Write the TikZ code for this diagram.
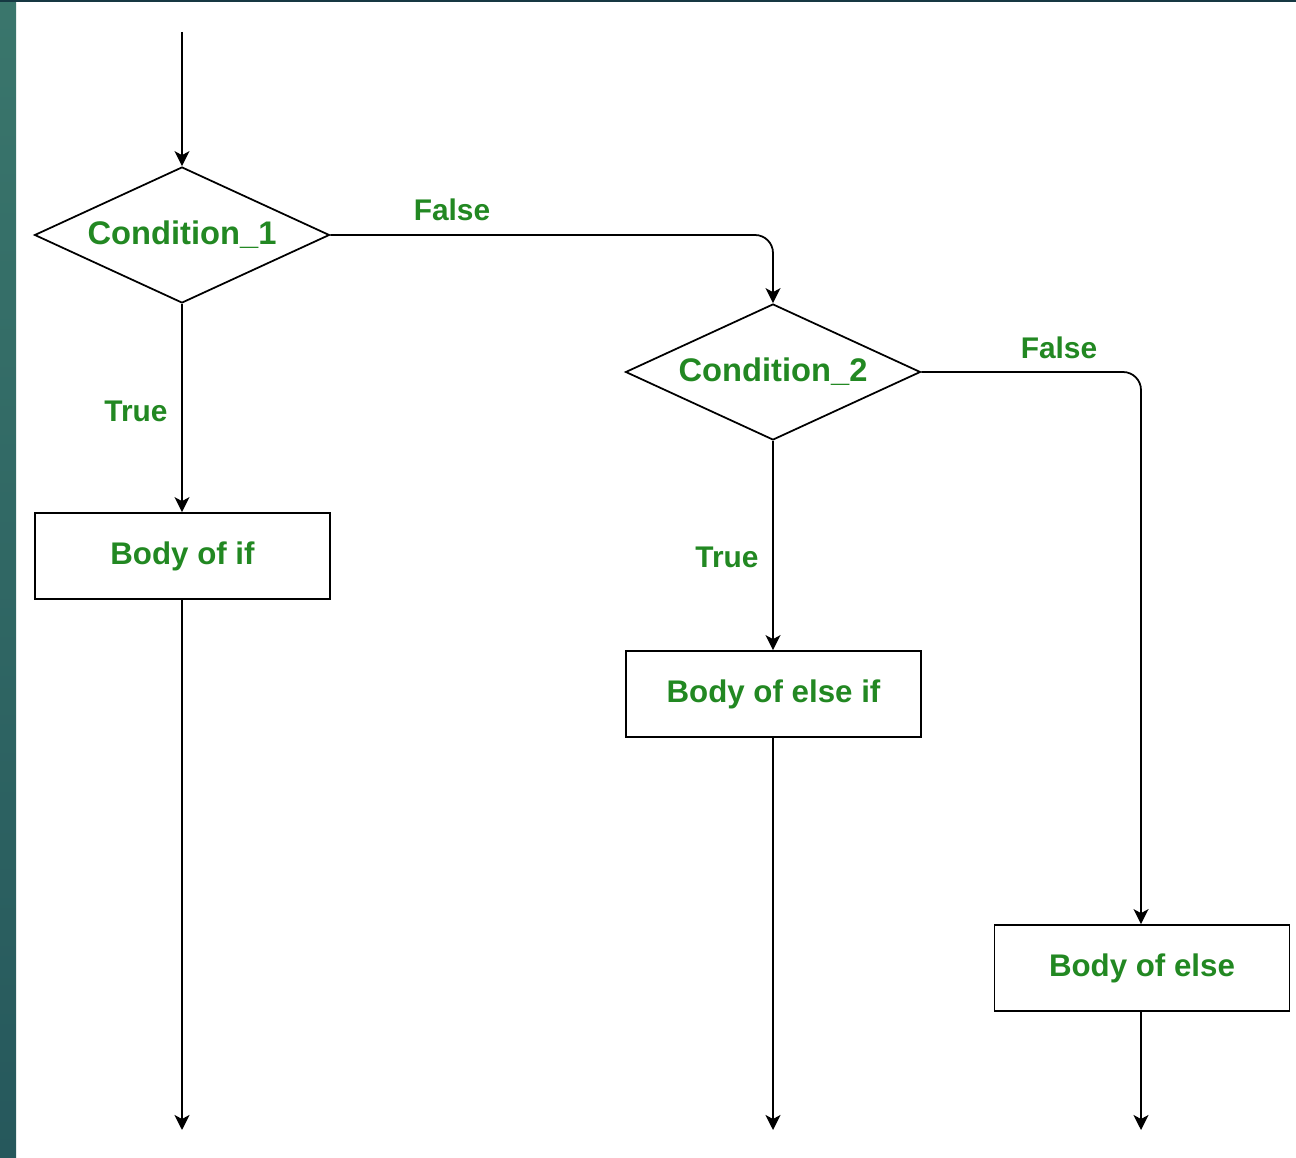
\documentclass[tikz,border=0pt]{standalone}
\usepackage{fontspec}
\setmainfont{Liberation Sans}
\usetikzlibrary{shapes.geometric,arrows.meta}
\definecolor{labelgreen}{RGB}{34,136,34}
\definecolor{edgeteal}{RGB}{58,118,108}
\definecolor{edgetealdark}{RGB}{38,88,92}
\definecolor{topstripe}{RGB}{22,56,66}
\tikzset{
  arr/.style={draw=black, line width=1pt, -{Stealth[length=0.3cm,width=0.3cm,inset=0.08cm]}},
  decision/.style={diamond, draw=black, line width=1pt, inner sep=0pt, aspect=2.17,
    minimum width=5.9cm, minimum height=2.72cm, font=\fontsize{18.6}{21}\selectfont\bfseries,
    text=labelgreen},
  stepbox/.style={rectangle, draw=black, line width=1pt, inner sep=0pt,
    minimum width=5.9cm, minimum height=1.72cm, font=\fontsize{17.8}{20}\selectfont\bfseries,
    text=labelgreen},
  branchlabel/.style={font=\fontsize{17}{20}\selectfont\bfseries, text=labelgreen, inner sep=0pt}
}
\begin{document}
\begin{tikzpicture}[x=0.02cm, y=-0.02cm]
  % page and frame
  \useasboundingbox (0,0) rectangle (1296,1158);
  \fill[white] (0,0) rectangle (1296,1158);
  \shade[top color=edgeteal, bottom color=edgetealdark] (0,0) rectangle (16,1158);
  \fill[topstripe] (0,0) rectangle (1296,2);

  % decisions
  \node[decision] (c1) at (182,235) {Condition\_1};
  \node[decision] (c2) at (773,372) {Condition\_2};

  % bodies
  \node[stepbox] (b1) at (182.5,556) {Body of if};
  \node[stepbox] (b2) at (773.5,694) {Body of else if};
  \node[stepbox] (b3) at (1142,968) {Body of else};

  % branch labels
  \node[branchlabel] (f1) at (452,210) {False};
  \node[branchlabel] (f2) at (1059,348) {False};
  \node[branchlabel] (t1) at (136,411) {True};
  \node[branchlabel] (t2) at (727,557) {True};

  % open ends
  \coordinate (start) at (182,32);
  \coordinate (end1) at (182,1130);
  \coordinate (end2) at (773,1130);
  \coordinate (end3) at (1141,1130);

  % connectors
  \draw[arr] (start) -- (c1.north);
  \draw[arr] (c1.south) -- (b1.north -| c1.south);
  \draw[arr, rounded corners=0.36cm] (c1.east) -| (c2.north);
  \draw[arr] (c2.south) -- (b2.north -| c2.south);
  \draw[arr, rounded corners=0.36cm] (c2.east) -| (b3.north -| end3);
  \draw[arr] (b1.south -| end1) -- (end1);
  \draw[arr] (b2.south -| end2) -- (end2);
  \draw[arr] (b3.south -| end3) -- (end3);
\end{tikzpicture}
\end{document}
